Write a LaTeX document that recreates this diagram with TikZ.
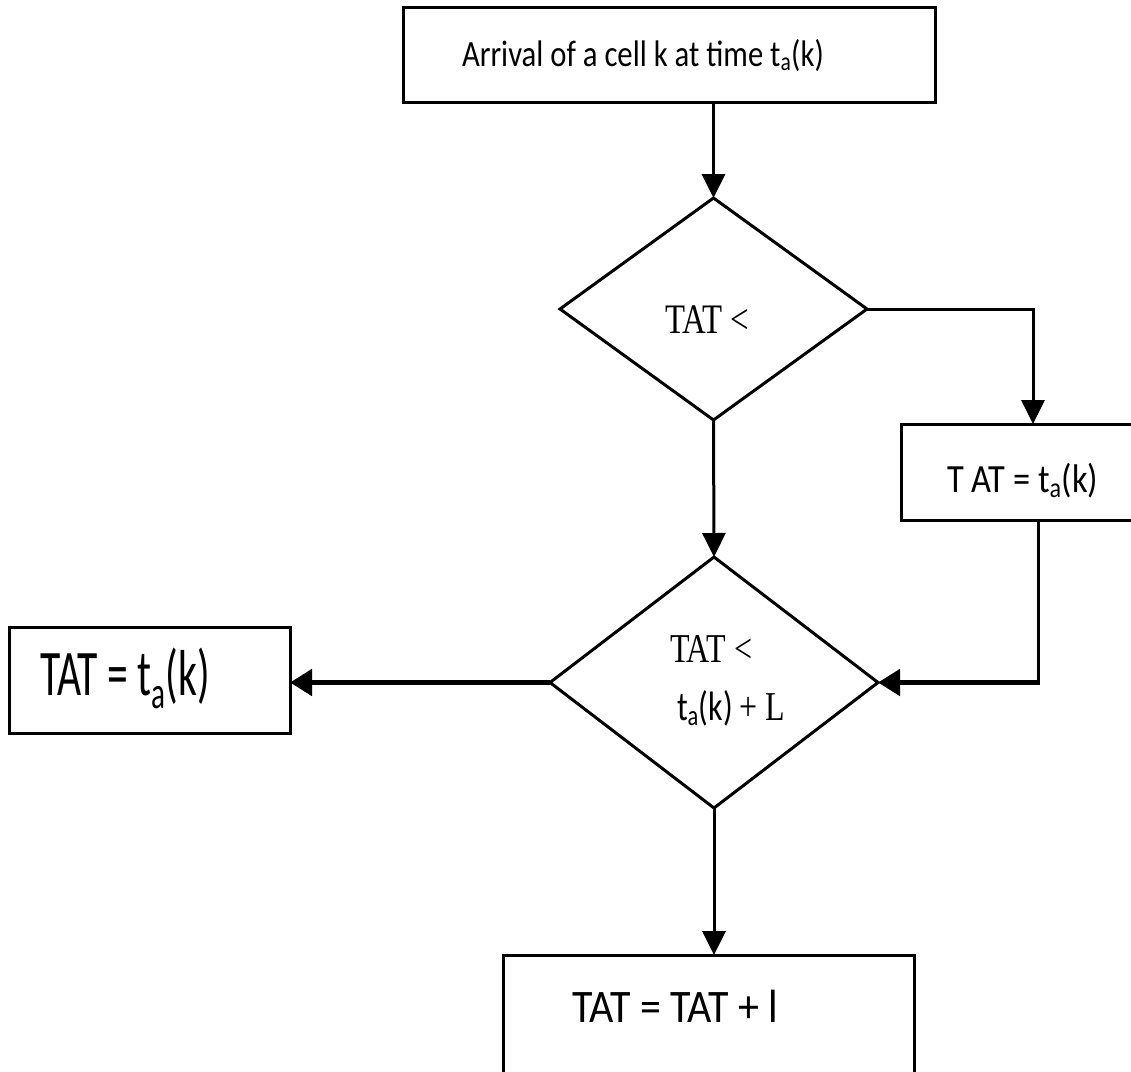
\documentclass[tikz,border=0pt]{standalone}
\usepackage{fontspec}
\setmainfont{Carlito}
\newfontfamily\tms{Liberation Serif}
\usetikzlibrary{shapes.geometric,arrows.meta}
\newcommand{\sq}[2]{\scalebox{#1}[1]{#2}}
\newcommand{\fs}[1]{\fontsize{#1}{#1}\selectfont}
\newcommand{\subA}{\textsubscript{a}}
\begin{document}
\begin{tikzpicture}[x=1pt,y=-1pt,
  box/.style={draw, line width=3pt, rectangle, inner sep=0pt, outer sep=0pt},
  dia/.style={draw, line width=3pt, diamond, inner sep=0pt, outer sep=0pt},
  txt/.style={inner sep=0pt, outer sep=0pt, anchor=base west},
  conn/.style={line width=3pt, -{Triangle[length=24pt,width=23pt]}},
  thickconn/.style={line width=5pt, -{Triangle[length=22pt,width=26pt]}}]
\useasboundingbox (0,0) rectangle (1131,1071);
\clip (0,0) rectangle (1131,1071);

% boxes
\node[box, minimum width=532pt, minimum height=95pt] (b1) at (669,54.5) {};
\node[box, minimum width=260pt, minimum height=96pt] (b2) at (1031,472) {};
\node[box, minimum width=281pt, minimum height=106pt] (b3) at (149.5,680) {};
\node[box, minimum width=411pt, minimum height=145pt] (b4) at (708.5,1027.5) {};

% diamonds
\node[dia, minimum width=307pt, minimum height=222pt] (d1) at (713.5,309) {};
\node[dia, minimum width=328pt, minimum height=251pt] (d2) at (714,682.5) {};

% texts
\node[txt] (t1) at (462,66) {\fs{37}\sq{0.83}{Arrival of a cell k at time t\subA(k)}};
\node[txt] (t2) at (947,492) {\fs{40}\sq{0.86}{T AT = t\subA(k)}};
\node[txt] (t3) at (40,695) {\fs{65}\sq{0.64}{TAT = t\subA(k)}};
\node[txt] (t4) at (572,1022) {\fs{46.6}\sq{0.9}{TAT = TAT + l}};
\node[txt] (t5) at (665,333) {\fs{42}\sq{0.78}{\tms TAT <}};
\node[txt] (t6) at (670,662) {\fs{41}\sq{0.78}{\tms TAT <}};
\node[txt] (t7) at (677,720) {\fs{41}\sq{0.78}{t\subA(k) {\tms + L}}};

% connectors
\draw[conn] (d1.north |- b1.south) -- (d1.north);
\draw[conn] (d1.east) -| (b2.north -| 1033,0);
\draw[conn] (d1.south) -- (d2.north);
\coordinate (c1) at (1038,682.5);
\draw[line width=3pt] (b2.south -| c1) -- ([yshift=1.5pt]c1);
\draw[thickconn] ([xshift=1.5pt]c1) -- (d2.east);
\draw[thickconn] (d2.west) -- (b3.east |- d2.west);
\draw[conn] (d2.south) -- (d2.south |- b4.north);
\end{tikzpicture}
\end{document}
